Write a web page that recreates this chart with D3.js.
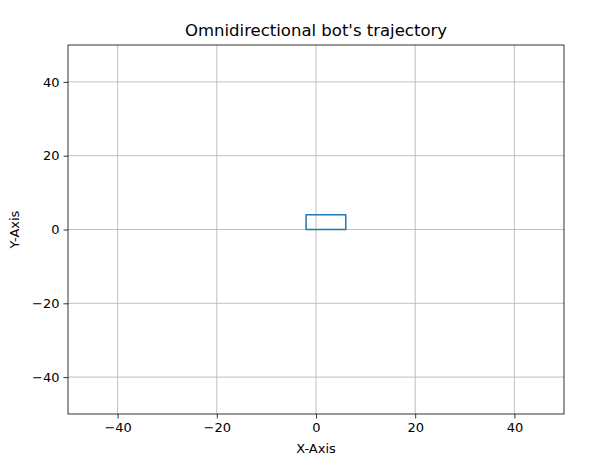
<!DOCTYPE html>
<html lang="en">
<head>
<meta charset="utf-8">
<title>Omnidirectional bot's trajectory</title>
<style>
body { margin: 0; background: #fff; }
svg text { font-family: "DejaVu Sans", sans-serif; fill: #000; }
.grid line { stroke: #b0b0b0; stroke-width: 0.8; }
.axis path, .axis line { stroke: #000; stroke-width: 0.8; }
</style>
</head>
<body>
<div id="chart"></div>
<script src="https://d3js.org/d3.v7.min.js"></script>
<script>
// trajectory points of the bot
var xs = [0, 6, 6, -2, -2, 0];
var ys = [0, 0, 4, 4, 0, 0];
var xTicks = [-40, -20, 0, 20, 40];
var yTicks = [-40, -20, 0, 20, 40];

var W = 598, H = 460;
var margin = { top: 45, right: 34, bottom: 46, left: 68 };
var width = W - margin.left - margin.right,
    height = H - margin.top - margin.bottom;

var svg = d3.select("#chart").append("svg")
    .attr("width", W)
    .attr("height", H);

var g = svg.append("g")
    .attr("transform", "translate(" + margin.left + "," + margin.top + ")");

var x = d3.scaleLinear().domain([-50, 50]).range([0, width]);
var y = d3.scaleLinear().domain([-50, 50]).range([height, 0]);

// grid
g.append("g").attr("class", "grid")
  .selectAll("line").data(xTicks).enter().append("line")
    .attr("x1", function(d) { return x(d); })
    .attr("x2", function(d) { return x(d); })
    .attr("y1", 0).attr("y2", height);
g.append("g").attr("class", "grid")
  .selectAll("line").data(yTicks).enter().append("line")
    .attr("y1", function(d) { return y(d); })
    .attr("y2", function(d) { return y(d); })
    .attr("x1", 0).attr("x2", width);

// trajectory
var pts = xs.map(function(v, i) { return [v, ys[i]]; });
g.append("path")
    .datum(pts)
    .attr("fill", "none")
    .attr("stroke", "#1f77b4")
    .attr("stroke-width", 1.5)
    .attr("stroke-linejoin", "round")
    .attr("d", d3.line().x(function(d) { return x(d[0]); }).y(function(d) { return y(d[1]); }));

// axes
var fmt = function(d) { return d < 0 ? "\u2212" + (-d) : d; };
g.append("g").attr("class", "axis")
    .attr("transform", "translate(0," + height + ")")
    .call(d3.axisBottom(x).tickValues(xTicks).tickSize(4.5).tickPadding(4).tickFormat(fmt));
g.append("g").attr("class", "axis")
    .call(d3.axisLeft(y).tickValues(yTicks).tickSize(4.5).tickPadding(4).tickFormat(fmt));
g.selectAll(".axis text").style("font-size", "13px").style("font-family", "DejaVu Sans");
g.selectAll(".axis .domain").remove();

// frame
g.append("rect")
    .attr("width", width).attr("height", height)
    .attr("fill", "none").attr("stroke", "#000").attr("stroke-width", 0.8);

svg.append("text")
    .attr("x", margin.left + width / 2).attr("y", 36)
    .attr("text-anchor", "middle")
    .style("font-size", "16.5px")
    .text("Omnidirectional bot's trajectory");

svg.append("text")
    .attr("x", margin.left + width / 2).attr("y", 453)
    .attr("text-anchor", "middle")
    .style("font-size", "13px")
    .text("X-Axis");

svg.append("text")
    .attr("transform", "translate(19," + (margin.top + height / 2) + ") rotate(-90)")
    .attr("text-anchor", "middle")
    .style("font-size", "13px")
    .text("Y-Axis");
</script>
</body>
</html>
